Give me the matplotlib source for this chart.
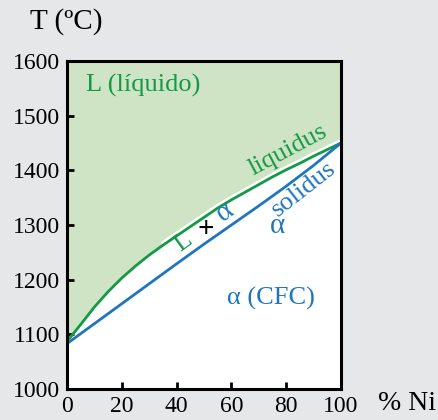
import numpy as np
import matplotlib.pyplot as plt

plt.rcParams['font.family'] = ['Liberation Serif', 'DejaVu Serif']

# phase diagram Cu-Ni
ni_liq = [0, 5, 10, 15, 20, 25, 30, 35, 40, 45, 50, 55, 60, 65, 70, 75, 80, 85, 90, 95, 100]
t_liquidus = [1087, 1118, 1150, 1178, 1203, 1225, 1245, 1263, 1280, 1297, 1314,
              1331, 1346, 1360, 1374, 1388, 1401, 1413, 1426, 1438, 1450]
ni_sol = [0, 20, 40, 50, 60, 70, 80, 90, 100]
t_solidus = [1083, 1156, 1229, 1265, 1300, 1335, 1371, 1409, 1450]

x_ticks = [0, 20, 40, 60, 80, 100]
y_ticks = [1000, 1100, 1200, 1300, 1400, 1500, 1600]

bg = '#e6e7e9'
green = '#139a48'
blue = '#1f75c0'
fill_green = '#cfe3c5'

fig = plt.figure(figsize=(4.39, 4.20), dpi=100, facecolor=bg)
ax = fig.add_axes([67/439, 31/420, 274/439, 328/420])
ax.set_facecolor('white')

ax.fill_between(ni_liq, t_liquidus, 1600, color=fill_green, lw=0)
ax.plot(ni_liq[7:], t_liquidus[7:], color='white', lw=5.5, solid_capstyle='butt')
ax.plot(ni_liq, t_liquidus, color=green, lw=2)
ax.plot(ni_sol, t_solidus, color=blue, lw=2)

ax.set_xlim(0, 100)
ax.set_ylim(1000, 1600)
ax.set_xticks(x_ticks)
ax.set_yticks(y_ticks)
ax.tick_params(direction='in', length=5, width=2, labelsize=17, pad=5)
for s in ax.spines.values():
    s.set_linewidth(2.2)

fs = 19
ax.text(7, 1555, 'L (líquido)', color=green, fontsize=fs, ha='left', va='center')
ax.text(80.5, 1437, 'liquidus', color=green, fontsize=fs, rotation=28, ha='center', va='center')
ax.text(86.5, 1365, 'solidus', color=blue, fontsize=fs, rotation=38, ha='center', va='center')
ax.text(77, 1298, 'α', color=blue, fontsize=fs + 2, ha='center', va='center')
ax.text(42.5, 1268, 'L', color=green, fontsize=fs, rotation=36, ha='center', va='center')
ax.text(50.5, 1292, '+', color='black', fontsize=21, fontweight='bold', ha='center', va='center')
ax.text(57.5, 1324, 'α', color=blue, fontsize=fs + 2, rotation=36, ha='center', va='center')
ax.text(74.5, 1165, 'α (CFC)', color=blue, fontsize=fs, ha='center', va='center')

fig.text(66/439, 1 - 22/420, 'T (ºC)', fontsize=21, ha='center', va='center')
fig.text(407/439, 1 - 404/420, '% Ni', fontsize=20, ha='center', va='center')

fig.savefig('out.png', dpi=100, facecolor=bg)
